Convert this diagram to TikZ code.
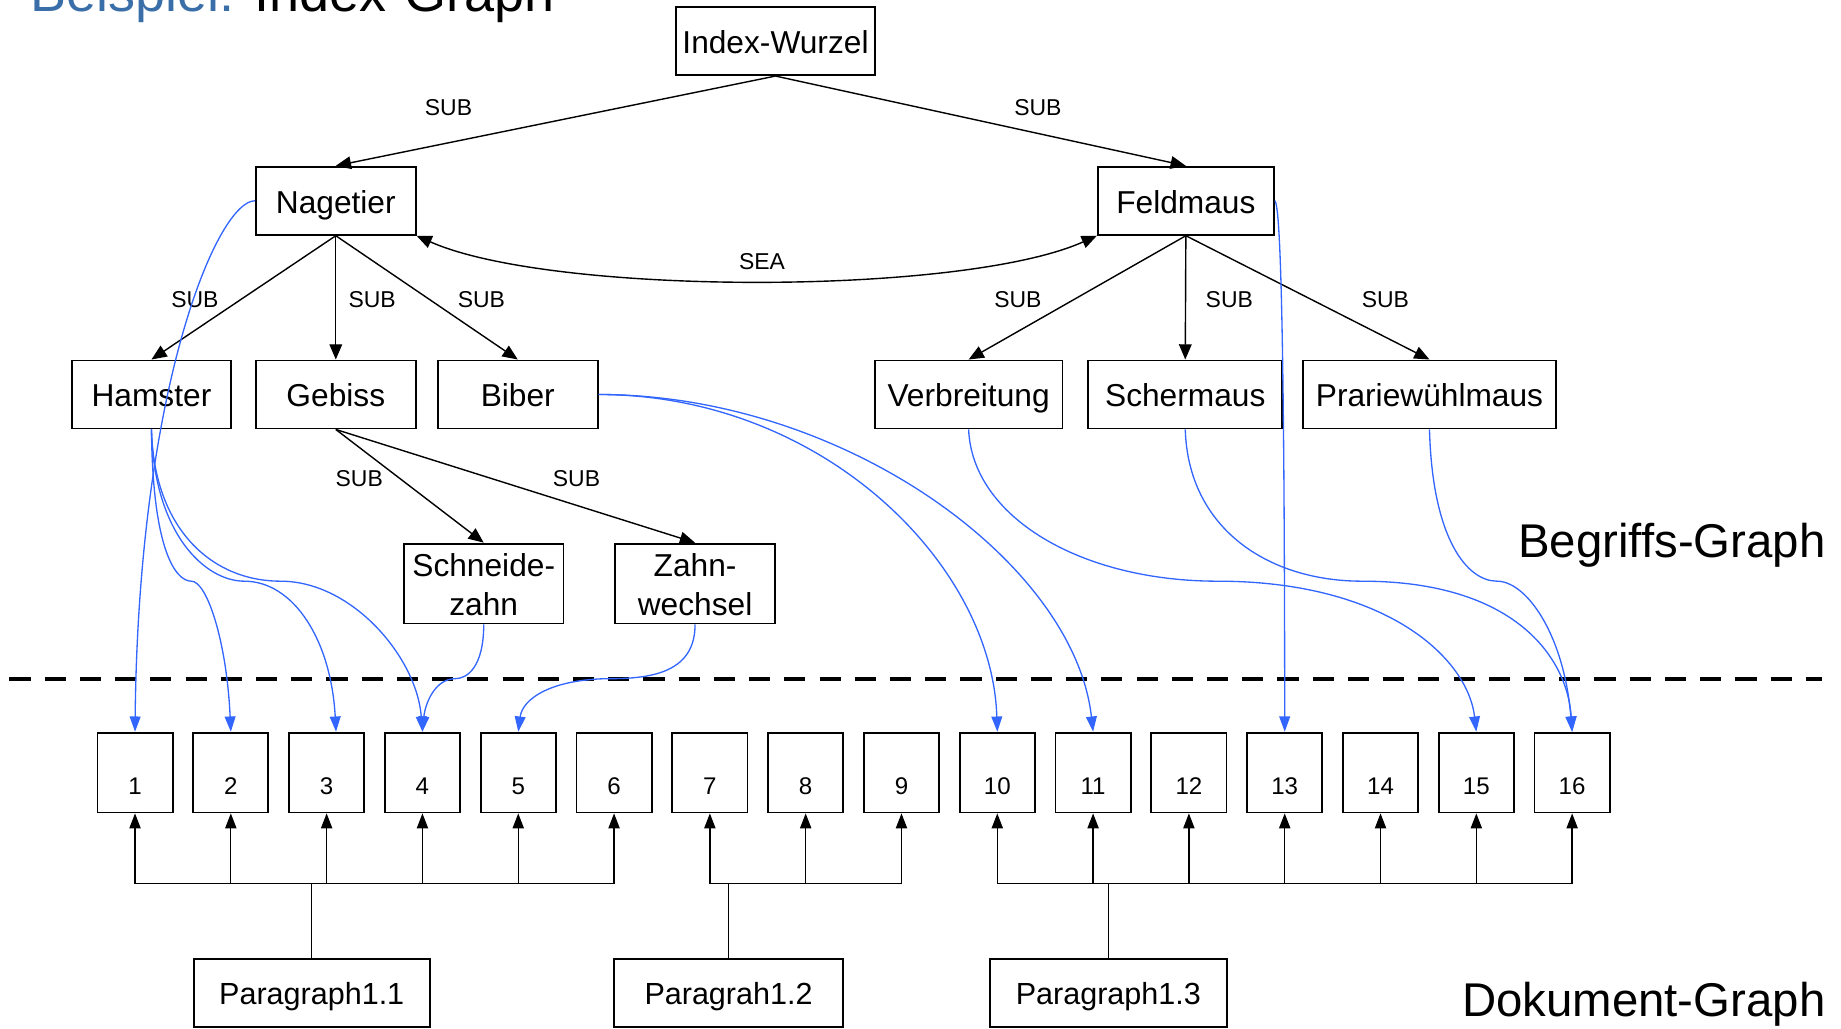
\documentclass[tikz,border=0pt]{standalone}
\usepackage{fontspec}
\setmainfont{Liberation Sans}
\usetikzlibrary{arrows.meta}
\definecolor{linkblue}{HTML}{3366FF}
\definecolor{titleblue}{HTML}{3A6EA8}
\newcommand{\fsnode}{\fontsize{19.2pt}{23.5pt}\selectfont}
\newcommand{\fspara}{\fontsize{18.5pt}{22pt}\selectfont}
\newcommand{\fslabel}{\fontsize{13.9pt}{16pt}\selectfont}
\newcommand{\fsnum}{\fontsize{14.6pt}{17pt}\selectfont}
\newcommand{\fsbig}{\fontsize{28.7pt}{32pt}\selectfont}
\newcommand{\fstitle}{\fontsize{32.7pt}{36pt}\selectfont}
\begin{document}
\begin{tikzpicture}[x=0.25mm, y=-0.25mm,
  concept/.style={draw, line width=1.1pt, inner sep=0pt, minimum height=14.5mm,
    font=\fsnode, align=center, text height=18.2pt, text depth=3.3pt},
  twoline/.style={minimum height=17mm, text height=41.7pt},
  para/.style={draw, line width=1.1pt, inner sep=0pt, minimum height=14.5mm,
    font=\fspara, text height=17.6pt, text depth=3.1pt},
  numbox/.style={draw, line width=1.1pt, inner sep=0pt, minimum width=16mm,
    minimum height=17mm, text height=13.25mm, text depth=3.75mm, font=\fsnum},
  rel/.style={line width=0.85pt, -{Triangle[length=3.25mm, width=2.7mm]}},
  both rel/.style={line width=0.85pt,
    {Triangle[length=3.25mm, width=2.7mm]}-{Triangle[length=3.25mm, width=2.7mm]}},
  reflink/.style={linkblue, line width=0.8pt, -{Triangle[length=3.25mm, width=2.3mm]}},
  part/.style={line width=0.8pt, -{Triangle[length=3.2mm, width=2.4mm]}},
  lbl/.style={font=\fslabel, inner sep=0pt},
  biglbl/.style={font=\fsbig, inner sep=0pt, anchor=base},
]
\useasboundingbox (0,0) rectangle (1568,876);

% heading
\node[font=\fstitle, inner sep=0pt, anchor=base west] (title) at (26,10)
  {\textcolor{titleblue}{Beispiel:} Index-Graph};

% concept graph
\node[concept, minimum width=42.25mm] (idx) at (660.5,35) {Index-Wurzel};
\node[concept, minimum width=34mm] (nag) at (286,171) {Nagetier};
\node[concept, minimum width=37.5mm] (feld) at (1010,171) {Feldmaus};
\node[concept, minimum width=34mm] (ham) at (129,336) {Hamster};
\node[concept, minimum width=34mm] (geb) at (286,336) {Gebiss};
\node[concept, minimum width=34mm] (bib) at (441,336) {Biber};
\node[concept, minimum width=40mm] (verb) at (825,336) {Verbreitung};
\node[concept, minimum width=41.25mm] (scher) at (1009.5,336) {Schermaus};
\node[concept, minimum width=53.75mm] (prar) at (1217.5,336) {Prariewühlmaus};
\node[concept, twoline, minimum width=34mm] (sz) at (412,497) {Schneide-\\zahn};
\node[concept, twoline, minimum width=34mm] (zw) at (592,497) {Zahn-\\wechsel};

\draw[rel] (idx.south) -- (nag.north);
\draw[rel] (idx.south) -- (feld.north);
\draw[rel] (nag.south) -- (ham.north);
\draw[rel] (nag.south) -- (geb.north);
\draw[rel] (nag.south) -- (bib.north);
\draw[rel] (feld.south) -- (verb.north);
\draw[rel] (feld.south) -- (scher.north);
\draw[rel] (feld.south) -- (prar.north);
\draw[rel] (geb.south) -- (sz.north);
\draw[rel] (geb.south) -- (zw.north);
\draw[both rel] (nag.south east) .. controls (470,252) and (820,252) .. (feld.south west);

\node[lbl] (l1) at (382,92) {SUB};
\node[lbl] (l2) at (884,92) {SUB};
\node[lbl] (l3) at (649,223) {SEA};
\node[lbl] (l4) at (166,255) {SUB};
\node[lbl] (l5) at (317,255) {SUB};
\node[lbl] (l6) at (410,255) {SUB};
\node[lbl] (l7) at (867,255) {SUB};
\node[lbl] (l8) at (1047,255) {SUB};
\node[lbl] (l9) at (1180,255) {SUB};
\node[lbl] (l10) at (306,408) {SUB};
\node[lbl] (l11) at (491,408) {SUB};

% separator between the two graphs
\draw[line width=2.4pt, dash pattern=on 4.5mm off 3mm] (8,578) -- (1552,578);

% document graph
\foreach \i in {1,...,16}
  \node[numbox] (b\i) at ({115+81.6*(\i-1)},658) {\i};

\node[para, minimum width=50.25mm] (p11) at (265.5,845.5) {Paragraph1.1};
\node[para, minimum width=48.75mm] (p12) at (620.5,845.5) {Paragrah1.2};
\node[para, minimum width=50.5mm] (p13) at (944,845.5) {Paragraph1.3};

\foreach \i in {1,...,6}
  \draw[part] (p11.north) -- ++(0,-63) -| (b\i.south);
\foreach \i in {7,8,9}
  \draw[part] (p12.north) -- ++(0,-63) -| (b\i.south);
\foreach \i in {10,...,16}
  \draw[part] (p13.north) -- ++(0,-63) -| (b\i.south);

% references from concepts to document parts
\draw[reflink] (nag.west) .. controls (185,171) and (118,330) .. (b1.north);
\draw[reflink] (ham.south) .. controls (130,470) and (150,495) .. (163,495)
  .. controls (176,495) and (193,545) .. (b2.north);
\draw[reflink] (ham.south) .. controls (131,455) and (175,495) .. (208,495)
  .. controls (250,495) and (282,545) .. ([xshift=2mm]b3.north);
\draw[reflink] (ham.south) .. controls (131,450) and (180,495) .. (239,495)
  .. controls (300,495) and (355,560) .. (b4.north);
\draw[reflink] (sz.south) .. controls (412,568) and (398,578) .. (388,578)
  .. controls (370,578) and (362,600) .. (b4.north);
\draw[reflink] (zw.south) .. controls (592,570) and (560,578) .. (521,578)
  .. controls (470,578) and (445,595) .. (b5.north);
\draw[reflink] (bib.east) .. controls (700,336) and (845,480) .. (b10.north);
\draw[reflink] (bib.east) .. controls (720,336) and (915,480) .. (b11.north);
\draw[reflink] (feld.east) .. controls (1091,175) and (1094,300) .. (b13.north);
\draw[reflink] (verb.south) .. controls (828,440) and (920,495) .. (1037,495)
  .. controls (1180,495) and (1250,560) .. (b15.north);
\draw[reflink] (scher.south) .. controls (1012,450) and (1080,495) .. (1160,495)
  .. controls (1290,495) and (1335,560) .. (b16.north);
\draw[reflink] (prar.south) .. controls (1220,460) and (1250,495) .. (1275,495)
  .. controls (1300,495) and (1332,540) .. (b16.north);

\node[biglbl] (bg) at (1424,475) {Begriffs-Graph};
\node[biglbl] (dg) at (1400,866) {Dokument-Graph};
\end{tikzpicture}
\end{document}
